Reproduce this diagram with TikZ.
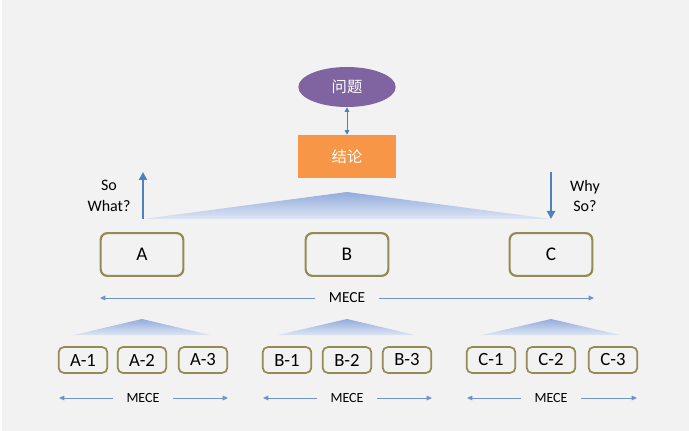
\documentclass[tikz,border=0pt]{standalone}
\usepackage{fontspec}
\setmainfont{Carlito}
\newfontfamily\cjk{Noto Sans CJK SC}
\usetikzlibrary{arrows.meta,shapes.geometric}
\definecolor{bgray}{HTML}{F2F2F2}
\definecolor{purp}{HTML}{8064A2}
\definecolor{orng}{HTML}{F79646}
\definecolor{olive}{HTML}{948A54}
\definecolor{arrblue}{HTML}{4F81BD}
\definecolor{lineblue}{HTML}{6F94C8}
\definecolor{tritop}{HTML}{93ACDD}
\definecolor{tribot}{HTML}{DDE5F3}
\begin{document}
\begin{tikzpicture}[x=0.75pt, y=-0.75pt,
  bigbox/.style={draw=olive, line width=1.6pt, rounded corners=5pt, fill=bgray,
    minimum width=62pt, minimum height=32pt, font=\fontsize{14.5}{17}\selectfont},
  subbox/.style={draw=olive, line width=1.3pt, rounded corners=4pt, fill=bgray,
    minimum width=36.5pt, minimum height=19.5pt, font=\fontsize{14}{16}\selectfont},
  mece/.style={font=\fontsize{11.5}{13}\selectfont, inner sep=1pt},
  submece/.style={font=\fontsize{10.5}{12}\selectfont, inner sep=1pt},
  meceline/.style={draw=lineblue, line width=0.7pt, -{Triangle[length=4pt,width=3.5pt]}},
  bluearr/.style={draw=arrblue, line width=1.8pt, -{Triangle[length=6pt,width=6pt]}}]
\fill[bgray] (0,0) rectangle (689,431);
\fill[white] (0,0) rectangle (1.5,431);
\useasboundingbox (0,0) rectangle (689,431);

\node[ellipse, fill=purp, text=white, minimum width=73pt, minimum height=30pt, inner sep=0pt,
  font=\cjk\fontsize{11.5}{13}\selectfont] (wenti) at (347,87) {问题};
\node[rectangle, fill=orng, text=white, minimum width=73.5pt, minimum height=32.25pt, inner sep=0pt,
  font=\cjk\fontsize{11.5}{13}\selectfont] (jielun) at (347,156.5) {结论};
\draw[draw=arrblue, line width=0.7pt, {Triangle[length=3.5pt,width=3.5pt]}-{Triangle[length=3.5pt,width=3.5pt]}] (wenti) -- (jielun);

\coordinate (tritip) at (347,192);
\coordinate (trileft) at (143,219);
\coordinate (triright) at (551,219);
\shade[top color=tritop, bottom color=tribot] (trileft) -- (tritip) -- (triright) -- cycle;

\coordinate (sowhat) at (143,172);
\coordinate (whyso) at (551,172);
\draw[bluearr] (trileft) -- (sowhat);
\draw[bluearr] (whyso) -- (triright);
\node[align=center, font=\fontsize{12}{15.5}\selectfont] (sowhatlbl) at (109,196) {So\\What?};
\node[align=center, font=\fontsize{12}{15.5}\selectfont] (whysolbl) at (585,196) {Why\\So?};

\node[bigbox] (A) at (142,254.5) {A};
\node[bigbox] (B) at (347,254.5) {B};
\node[bigbox] (C) at (551,254.5) {C};

\node[mece] (mece) at (347,298) {MECE};
\coordinate (meceL) at (100,298);
\coordinate (meceR) at (594,298);
\draw[meceline] ([xshift=-9pt]mece.west) -- (meceL);
\draw[meceline] ([xshift=9pt]mece.east) -- (meceR);

\shade[top color=tritop, bottom color=tribot] (74,335) -- (142,319) -- (210,335) -- cycle;
\shade[top color=tritop, bottom color=tribot] (278,335) -- (347,319) -- (415,335) -- cycle;
\shade[top color=tritop, bottom color=tribot] (482,335) -- (551,319) -- (620,335) -- cycle;

\node[subbox] (A1) at (83,360) {A-1};
\node[subbox] (A2) at (142,360) {A-2};
\node[subbox] (A3) at (203,360) {A-3};
\node[subbox] (B1) at (287,360) {B-1};
\node[subbox] (B2) at (347,360) {B-2};
\node[subbox] (B3) at (407,360) {B-3};
\node[subbox] (C1) at (491,360) {C-1};
\node[subbox] (C2) at (551,360) {C-2};
\node[subbox] (C3) at (613,360) {C-3};

\node[submece] (meceA) at (143,398) {MECE};
\coordinate (meceAL) at (59,398);
\coordinate (meceAR) at (228,398);
\draw[meceline] ([xshift=-9pt]meceA.west) -- (meceAL);
\draw[meceline] ([xshift=9pt]meceA.east) -- (meceAR);

\node[submece] (meceB) at (347,398) {MECE};
\coordinate (meceBL) at (263,398);
\coordinate (meceBR) at (432,398);
\draw[meceline] ([xshift=-9pt]meceB.west) -- (meceBL);
\draw[meceline] ([xshift=9pt]meceB.east) -- (meceBR);

\node[submece] (meceC) at (551,398) {MECE};
\coordinate (meceCL) at (467,398);
\coordinate (meceCR) at (637,398);
\draw[meceline] ([xshift=-9pt]meceC.west) -- (meceCL);
\draw[meceline] ([xshift=9pt]meceC.east) -- (meceCR);
\end{tikzpicture}
\end{document}
